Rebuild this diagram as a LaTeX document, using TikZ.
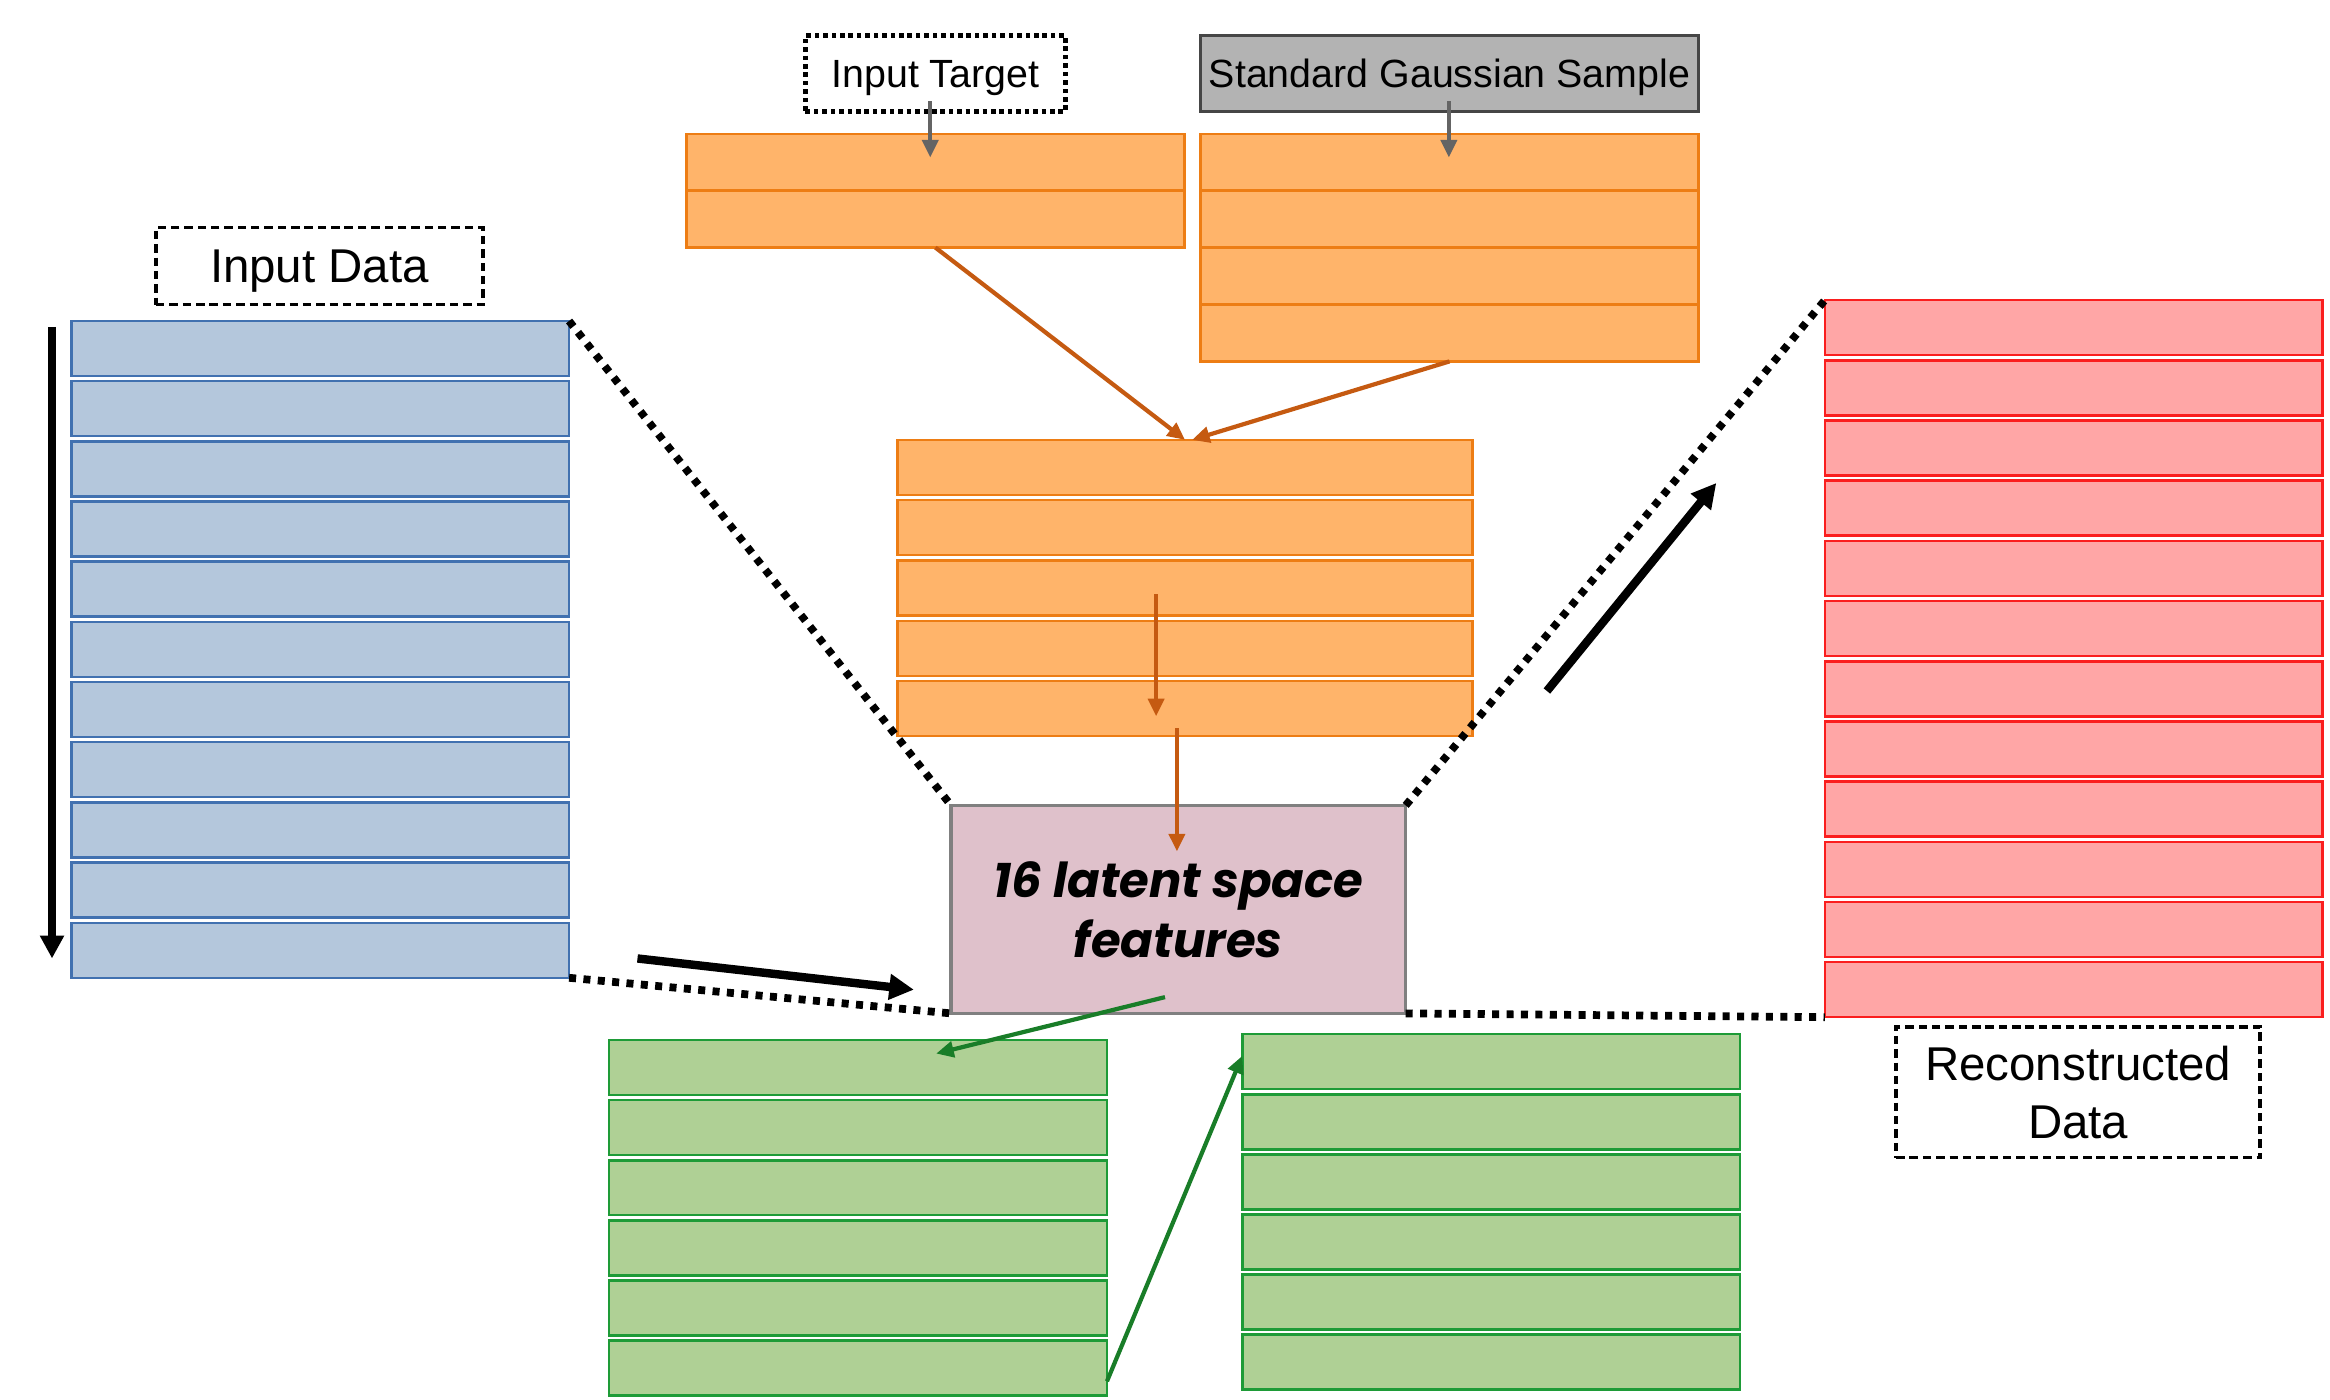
\documentclass[tikz,border=0pt]{standalone}
\usepackage{fontspec}
\setmainfont{Liberation Sans}
\newfontfamily\latfont{Poppins}
\usetikzlibrary{arrows.meta,calc}
\definecolor{bluefill}{RGB}{180,199,220}
\definecolor{blueline}{RGB}{65,113,176}
\definecolor{orfill}{RGB}{255,180,106}
\definecolor{orline}{RGB}{237,125,20}
\definecolor{orarrow}{RGB}{197,90,17}
\definecolor{redfill}{RGB}{255,166,166}
\definecolor{redline}{RGB}{250,30,30}
\definecolor{grfill}{RGB}{175,208,149}
\definecolor{grline}{RGB}{30,155,55}
\definecolor{grarrow}{RGB}{25,125,40}
\definecolor{pinkfill}{RGB}{223,193,203}
\definecolor{pinkline}{RGB}{128,128,128}
\definecolor{graybox}{RGB}{179,179,179}
\definecolor{grayline}{RGB}{70,70,70}
\definecolor{grayarrow}{RGB}{100,100,100}
\begin{document}
\begin{tikzpicture}[x=0.01486cm,y=-0.01486cm,
  cell/.style={draw, line width=0.7pt, minimum width=4.978cm, minimum height=0.55cm,
    anchor=north west, outer sep=0pt, inner sep=0pt},
  bluecell/.style={cell, fill=bluefill, draw=blueline},
  orcell/.style={cell, fill=orfill, draw=orline},
  redcell/.style={cell, fill=redfill, draw=redline},
  grcell/.style={cell, fill=grfill, draw=grline},
  bigfont/.style={font=\fontsize{13.5}{16.5}\selectfont},
  smallfont/.style={font=\fontsize{11.2}{13}\selectfont},
  dashlbl/.style={draw, line width=1pt, dash pattern=on 2.4pt off 1.4pt, inner sep=0pt},
  dotlbl/.style={draw, line width=1.3pt, dash pattern=on 1.3pt off 1.1pt, inner sep=0pt},
  funnel/.style={line width=2.2pt, dash pattern=on 2pt off 2.1pt},
  blackarr/.style={line width=2.4pt, -{Triangle[length=7pt,width=7pt]}},
  orarr/.style={draw=orarrow, line width=1.2pt, -{Triangle[length=5pt,width=4.5pt]}},
  grayarr/.style={draw=grayarrow, line width=1.2pt, -{Triangle[length=5pt,width=4.5pt]}},
  grarr/.style={draw=grarrow, line width=1.2pt, -{Triangle[length=5pt,width=4.5pt]}}
]
\useasboundingbox (0,0) rectangle (1568,942);

% stacks
\foreach \i in {0,...,10} \node[bluecell] (b\i) at (48,{216+40.5*\i}) {};
\foreach \i in {0,1} \node[orcell, minimum height=0.569cm] (ot\i) at (462,{90+38.3*\i}) {};
\foreach \i in {0,...,3} \node[orcell, minimum height=0.569cm] (og\i) at (808,{90+38.3*\i}) {};
\foreach \i in {0,...,4} \node[orcell, minimum width=5.751cm] (om\i) at (604,{296+40.6*\i}) {};
\foreach \i in {0,...,11} \node[redcell] (r\i) at (1228,{202+40.5*\i}) {};
\foreach \i in {0,...,5} \node[grcell] (gl\i) at (410,{700+40.4*\i}) {};
\foreach \i in {0,...,5} \node[grcell] (gr\i) at (836,{696+40.4*\i}) {};

% latent box
\node[draw=pinkline, line width=0.9pt, fill=pinkfill, minimum width=4.547cm, minimum height=2.08cm,
  anchor=north west, outer sep=0pt, align=center,
  font=\latfont\bfseries\itshape\fontsize{13.7}{17}\selectfont] (lat) at (640,542)
  {16 latent space\\features};

% labels
\node[dashlbl, bigfont, minimum width=3.269cm, minimum height=0.773cm, text depth=0pt] (inp) at (215,179) {Input Data};
\node[dotlbl, smallfont, minimum width=2.6cm, minimum height=0.758cm, text depth=0pt] (it) at (629.5,49.5) {Input Target};
\node[draw=grayline, line width=0.9pt, fill=graybox, inner sep=0pt, smallfont, text depth=0pt,
  minimum width=4.978cm, minimum height=0.758cm] (gs) at (975.5,49.5) {Standard Gaussian Sample};
\node[dashlbl, bigfont, align=center, minimum width=3.641cm, minimum height=1.308cm] (rec) at (1398.5,735)
  {Reconstructed\\Data};

% funnel lines
\draw[funnel] (b0.north east) -- (lat.north west);
\draw[funnel] (b10.south east) -- (lat.south west);
\draw[funnel] (lat.north east) -- (r0.north west);
\draw[funnel] (lat.south east) -- (r11.south west);

% coordinates for free ends
\coordinate (itA) at (626,68);
\coordinate (itB) at (626,106);
\coordinate (gsA) at (975,68);
\coordinate (gsB) at (975,106);
\coordinate (m1) at (778,400);
\coordinate (m2) at (778,482);
\coordinate (m3) at (792,490);
\coordinate (m4) at (792,573);
\coordinate (g1) at (784,671);
\coordinate (g2) at (630,709);
\coordinate (vA) at (35,220);
\coordinate (vB) at (35,645);
\coordinate (dA) at (429,645);
\coordinate (dB) at (615,666);
\coordinate (uA) at (1041,465);
\coordinate (uB) at (1155,325);

% arrows
\draw[grayarr] (itA) -- (itB);
\draw[grayarr] (gsA) -- (gsB);
\draw[orarr] (ot1.south) -- (om0.north);
\draw[orarr] (og3.south) -- ([xshift=2]om0.north);
\draw[orarr] (m1) -- (m2);
\draw[orarr] (m3) -- (m4);
\draw[grarr] (g1) -- (g2);
\draw[grarr] ($(gl5.east)+(0,9)$) -- ($(gr0.west)+(0,-4)$);
\draw[line width=2pt, -{Triangle[length=6.5pt,width=6.5pt]}] (vA) -- (vB);
\draw[blackarr] (dA) -- (dB);
\draw[blackarr] (uA) -- (uB);
\end{tikzpicture}
\end{document}
